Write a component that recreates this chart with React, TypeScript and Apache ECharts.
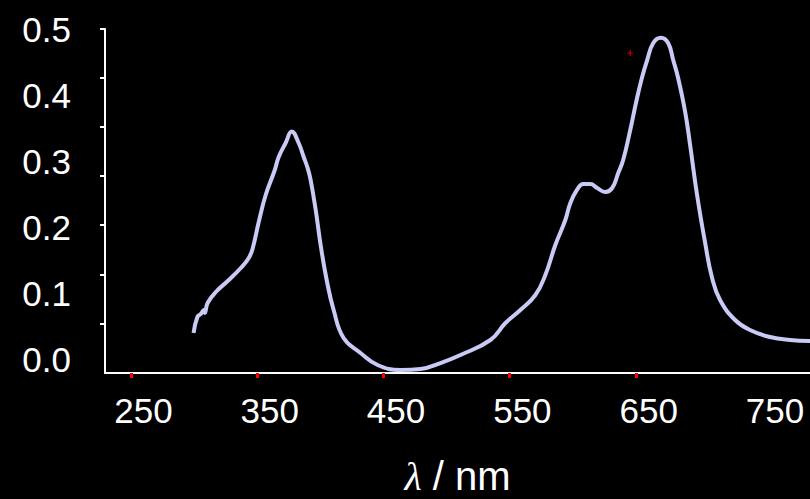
import React, { useEffect, useRef } from "react";
import * as echarts from "echarts";

// wavelength (nm) and absorbance
const wavelengths = [
  289.7, 292.8, 295.5, 297.8, 298.6, 300.8, 307.3, 317.6, 327.1, 333.4, 336.6, 341.3, 346.8,
  354.0, 357.1, 362.6, 367.4, 372.9, 376.9, 380.0, 382.4, 386.4, 390.3, 395.1, 400.6, 408.5,
  421.9, 435.4, 453.6, 469.4, 485.2, 501.0, 524.7, 536.6, 548.4, 560.3, 568.2, 576.1, 584.0,
  588.0, 593.2, 598.2, 603.8, 609.3, 615.6, 621.1, 625.9, 629.8, 635.4, 640.1, 644.6, 648.8,
  653.6, 659.6, 665.4, 669.4, 673.3, 678.9, 682.8, 688.3, 694.7, 700.2, 706.5, 718.4, 730.2,
  746.0, 761.9, 777.7,
];
const absorbance = [
  0.0394, 0.0641, 0.0682, 0.0742, 0.0697, 0.0848, 0.1015, 0.1197, 0.1379, 0.153, 0.1682, 0.2076,
  0.2485, 0.2864, 0.3061, 0.3273, 0.3447, 0.3273, 0.3061, 0.2894, 0.2712, 0.2258, 0.1727, 0.1197,
  0.0742, 0.0318, 0.0091, -0.0091, -0.0167, -0.0152, -0.0061, 0.0061, 0.0288, 0.0545, 0.0742,
  0.097, 0.1273, 0.1727, 0.2106, 0.2364, 0.2561, 0.2652, 0.2652, 0.2591, 0.253, 0.2591, 0.2818,
  0.3015, 0.347, 0.3894, 0.4258, 0.453, 0.4788, 0.4868, 0.4788, 0.453, 0.4258, 0.3742, 0.3242,
  0.2485, 0.1758, 0.1227, 0.0894, 0.0591, 0.0439, 0.0333, 0.0288, 0.0273,
];

// small red cross marker
const markerPoint = [635.4, 0.4636];

const xLabelValues = [250, 350, 450, 550, 650, 750];
const xTickValues = [240, 340, 440, 540, 640];
const yLabelValues = [0.0, 0.1, 0.2, 0.3, 0.4, 0.5];
const yTickValues = [0.053, 0.1273, 0.203, 0.2773, 0.3515, 0.4258, 0.5];

const X_MIN = 219.6;
const X_MAX = 777.7;
const Y_MIN = -0.0212;
const Y_MAX = 0.5;

export default function App() {
  const ref = useRef<HTMLDivElement>(null);

  useEffect(() => {
    document.body.style.margin = "0";
    if (!ref.current) return;
    const chart = echarts.init(ref.current, undefined, { renderer: "svg" });
    const font = "'Liberation Sans', Arial, sans-serif";
    chart.setOption({
      animation: false,
      backgroundColor: "#000000",
      grid: {
        left: 105,
        right: 0,
        top: 29,
        bottom: 126,
        containLabel: false,
        outerBoundsMode: "none",
      },
      xAxis: {
        type: "value",
        min: X_MIN,
        max: X_MAX,
        name: "{i|λ}{n| / nm}",
        nameLocation: "middle",
        nameGap: 86,
        nameTextStyle: {
          lineHeight: 34,
          rich: {
            i: {
              fontFamily: "'Liberation Serif', 'DejaVu Serif', serif",
              fontStyle: "italic",
              fontSize: 40,
              lineHeight: 34,
              color: "#ffffff",
            },
            n: { fontFamily: font, fontSize: 40, lineHeight: 34, color: "#ffffff" },
          },
        },
        axisLine: { onZero: false, lineStyle: { color: "#ffffff", width: 2 } },
        axisTick: {
          show: true,
          inside: false,
          length: 5,
          customValues: xTickValues,
          lineStyle: { color: "#ff0000", width: 3 },
        },
        axisLabel: {
          customValues: xLabelValues,
          margin: 20,
          color: "#ffffff",
          fontFamily: font,
          fontSize: 35,
          formatter: (v: number) => String(v),
        },
        splitLine: { show: false },
      },
      yAxis: {
        type: "value",
        min: Y_MIN,
        max: Y_MAX,
        axisLine: { show: true, onZero: false, lineStyle: { color: "#ffffff", width: 2 } },
        axisTick: {
          show: true,
          inside: false,
          length: 5,
          customValues: yTickValues,
          lineStyle: { color: "#ffffff", width: 2 },
        },
        axisLabel: {
          customValues: yLabelValues,
          margin: 34,
          color: "#ffffff",
          fontFamily: font,
          fontSize: 35,
          formatter: (v: number) => v.toFixed(1),
        },
        splitLine: { show: false },
      },
      series: [
        {
          type: "line",
          data: wavelengths.map((w, i) => [w, absorbance[i]]),
          smooth: 0.45,
          symbol: "none",
          clip: false,
          lineStyle: { color: "#cacaf6", width: 4 },
        },
        {
          type: "scatter",
          data: [markerPoint],
          symbol: "path://M2,0H3V2H5V3H3V5H2V3H0V2H2Z",
          symbolSize: 6,
          itemStyle: { color: "#ff0000" },
        },
      ],
    });
    return () => chart.dispose();
  }, []);

  return (
    <div
      ref={ref}
      style={{ position: "fixed", left: 0, top: 0, width: 810, height: 499, background: "#000" }}
    />
  );
}
